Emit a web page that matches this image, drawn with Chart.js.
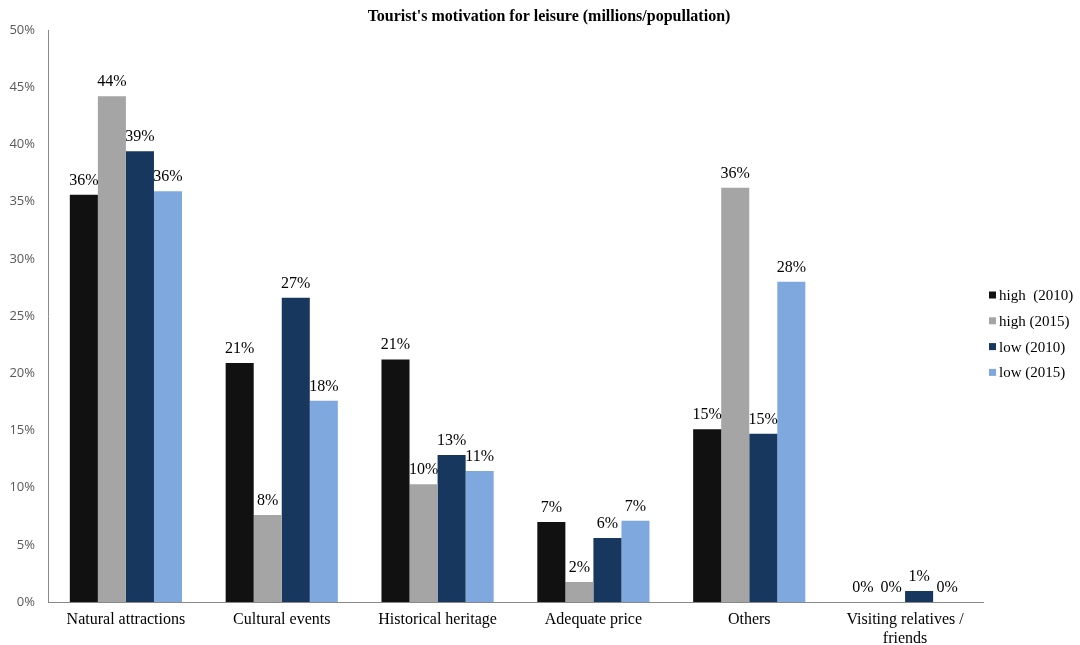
<!DOCTYPE html>
<html>
<head>
<meta charset="utf-8">
<script src="https://cdn.jsdelivr.net/npm/chart.js@4"></script>
<style>
  html, body { margin: 0; padding: 0; background: #fff; }
  #wrap { width: 1080px; height: 645px; }
</style>
</head>
<body>
<div id="wrap"><canvas id="myChart"></canvas></div>
<script>
const categories = [
    'Natural attractions',
    'Cultural events',
    'Historical heritage',
    'Adequate price',
    'Others',
    ['Visiting relatives /', 'friends']
];
const seriesNames = ['high  (2010)', 'high (2015)', 'low (2010)', 'low (2015)'];
const high2010 = [35.6, 20.9, 21.2, 7.0, 15.1, 0];
const high2015 = [44.2, 7.6, 10.3, 1.75, 36.2, 0];
const low2010 = [39.4, 26.6, 12.85, 5.6, 14.7, 0.96];
const low2015 = [35.9, 17.6, 11.45, 7.1, 28.0, 0];
const yTicks = [0, 5, 10, 15, 20, 25, 30, 35, 40, 45, 50];

const chartTitle = "Tourist's motivation for leisure (millions/popullation)";
const colors = ['#111111', '#a5a5a5', '#17375e', '#7fa9de'];
const serif = "'Liberation Serif', 'Times New Roman', serif";

// value labels above bars, plus title and legend drawn by hand
const extras = {
    id: 'extras',
    afterDatasetsDraw(chart) {
        const ctx = chart.ctx;
        ctx.save();
        ctx.font = '16px ' + serif;
        ctx.fillStyle = '#000';
        ctx.textAlign = 'center';
        ctx.textBaseline = 'alphabetic';
        chart.data.datasets.forEach(function (ds, i) {
            const meta = chart.getDatasetMeta(i);
            meta.data.forEach(function (bar, j) {
                ctx.fillText(Math.round(ds.data[j]) + '%', bar.x, bar.y - 10);
            });
        });
        ctx.restore();
    },
    afterDraw(chart) {
        const ctx = chart.ctx;
        const area = chart.chartArea;
        ctx.save();
        // title
        ctx.font = 'bold 16px ' + serif;
        ctx.fillStyle = '#000';
        ctx.textAlign = 'center';
        ctx.textBaseline = 'middle';
        ctx.fillText(chartTitle, chart.width / 2 + 9, 17);
        // legend
        ctx.font = '15px ' + serif;
        ctx.textAlign = 'left';
        let y = (area.top + area.bottom) / 2 - 21;
        chart.data.datasets.forEach(function (ds) {
            ctx.fillStyle = ds.backgroundColor;
            ctx.fillRect(area.right + 6, y - 3.5, 7, 7);
            ctx.fillStyle = '#000';
            ctx.fillText(ds.label, area.right + 16, y + 1);
            y += 25.8;
        });
        ctx.restore();
    }
};

const dataSource = {
    labels: categories,
    datasets: [high2010, high2015, low2010, low2015].map(function (d, i) {
        return {
            label: seriesNames[i],
            data: d,
            backgroundColor: colors[i],
            categoryPercentage: 0.72,
            barPercentage: 1.0
        };
    })
};

function createChart() {
    var ctx = document.getElementById('myChart').getContext('2d');
    new Chart(ctx, {
        type: 'bar',
        data: dataSource,
        plugins: [extras],
        options: {
            responsive: true,
            maintainAspectRatio: false,
            animation: false,
            layout: { padding: { top: 30, right: 97, left: 4, bottom: 0 } },
            plugins: {
                title: { display: false },
                legend: { display: false },
                tooltip: { enabled: false }
            },
            scales: {
                x: {
                    grid: { display: false, drawTicks: false },
                    border: { color: '#888' },
                    afterFit: function (scale) { scale.height = 43; },
                    ticks: {
                        color: '#000',
                        font: { family: serif, size: 16, lineHeight: 1.15 },
                        maxRotation: 0,
                        autoSkip: false,
                        padding: 9
                    }
                },
                y: {
                    min: 0,
                    max: 50,
                    afterBuildTicks: function (axis) {
                        axis.ticks = yTicks.map(function (v) { return { value: v }; });
                    },
                    afterFit: function (scale) { scale.width = 44; },
                    grid: { display: false, drawTicks: false },
                    border: { color: '#888' },
                    ticks: {
                        color: '#595959',
                        font: { family: "'Open Sans', sans-serif", size: 13 },
                        padding: 13,
                        callback: function (v) { return v + '%'; }
                    }
                }
            }
        }
    });
}
createChart();
</script>
</body>
</html>
